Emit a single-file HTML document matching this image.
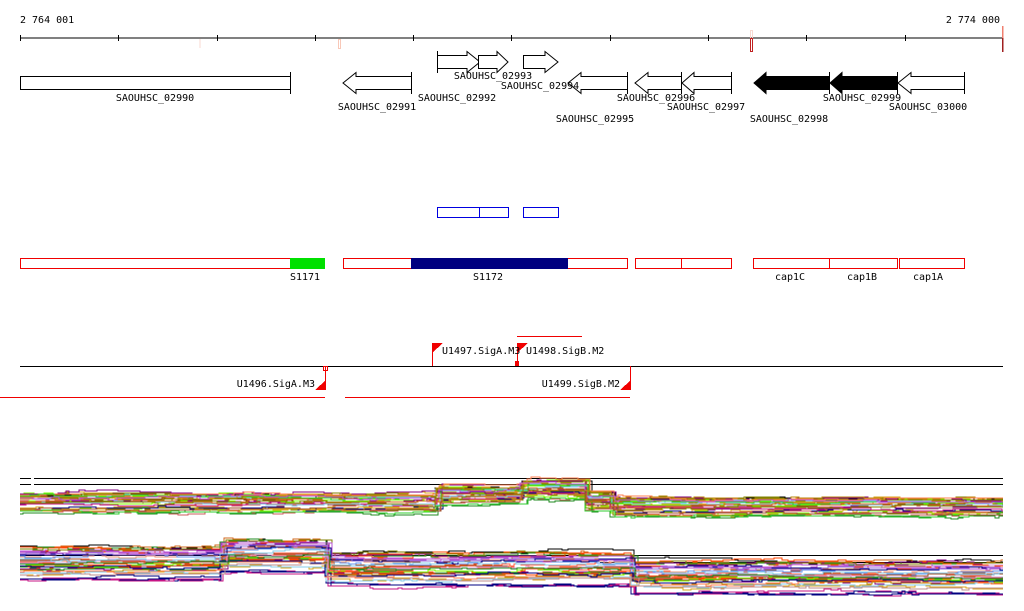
<!DOCTYPE html>
<html><head><meta charset="utf-8"><style>
html,body{margin:0;padding:0;background:#fff;width:1024px;height:611px;overflow:hidden}
svg{display:block}
text{font-family:"DejaVu Sans Mono","Liberation Mono",monospace;font-size:10px;fill:#000}
</style></head><body>
<svg id="s" width="1024" height="611" viewBox="0 0 1024 611" xmlns="http://www.w3.org/2000/svg" shape-rendering="crispEdges">
<text x="20" y="23">2 764 001</text>
<text x="1000" y="23" text-anchor="end">2 774 000</text>
<line x1="20" y1="38" x2="1003" y2="38" stroke="#000"/>
<g stroke="#000">
<line x1="20.5" y1="35" x2="20.5" y2="41"/><line x1="118.5" y1="35" x2="118.5" y2="41"/><line x1="217.5" y1="35" x2="217.5" y2="41"/><line x1="315.5" y1="35" x2="315.5" y2="41"/><line x1="413.5" y1="35" x2="413.5" y2="41"/><line x1="511.5" y1="35" x2="511.5" y2="41"/><line x1="610.5" y1="35" x2="610.5" y2="41"/><line x1="708.5" y1="35" x2="708.5" y2="41"/><line x1="806.5" y1="35" x2="806.5" y2="41"/><line x1="905.5" y1="35" x2="905.5" y2="41"/>
</g>
<rect x="199.5" y="39" width="1" height="9" fill="#f8d8d0"/>
<rect x="338.5" y="39.5" width="2" height="9" fill="none" stroke="#f8c8b8"/>
<rect x="750.5" y="30.5" width="2" height="8" fill="none" stroke="#f8d8d0"/>
<rect x="750.5" y="38.5" width="2" height="13" fill="none" stroke="#c02020"/>
<rect x="1002" y="26" width="1.5" height="12" fill="#f08070"/>
<rect x="1002" y="38" width="1.5" height="14" fill="#a02020"/>
<g fill="#fff" stroke="#000" stroke-width="1" shape-rendering="auto">
<rect x="20.5" y="76.5" width="270" height="13"/>
<line x1="290.5" y1="72" x2="290.5" y2="94"/>
<polygon points="411.5,76.5 356,76.5 356,72.5 343,83 356,93.5 356,89.5 411.5,89.5"/><line x1="411.5" y1="72" x2="411.5" y2="94"/>
<polygon points="437.5,55.5 467,55.5 467,51.5 480,62 467,72.5 467,68.5 437.5,68.5"/><line x1="437.5" y1="51" x2="437.5" y2="73"/>
<polygon points="478.5,55.5 497,55.5 497,51.5 508,62 497,72.5 497,68.5 478.5,68.5"/>
<polygon points="523.5,55.5 545,55.5 545,51.5 558,62 545,72.5 545,68.5 523.5,68.5"/>
<polygon points="627.5,76.5 581,76.5 581,72.5 568,83 581,93.5 581,89.5 627.5,89.5"/><line x1="627.5" y1="72" x2="627.5" y2="94"/>
<polygon points="681.5,76.5 648,76.5 648,72.5 635,83 648,93.5 648,89.5 681.5,89.5"/><line x1="681.5" y1="72" x2="681.5" y2="94"/>
<polygon points="731.5,76.5 694,76.5 694,72.5 682,83 694,93.5 694,89.5 731.5,89.5"/><line x1="731.5" y1="72" x2="731.5" y2="94"/>
<polygon points="829.5,76.5 766,76.5 766,72.5 754,83 766,93.5 766,89.5 829.5,89.5" fill="#000"/><line x1="829.5" y1="72" x2="829.5" y2="94"/>
<polygon points="897.5,76.5 842,76.5 842,72.5 830,83 842,93.5 842,89.5 897.5,89.5" fill="#000"/><line x1="897.5" y1="72" x2="897.5" y2="94"/>
<polygon points="964.5,76.5 911,76.5 911,72.5 898,83 911,93.5 911,89.5 964.5,89.5"/><line x1="964.5" y1="72" x2="964.5" y2="94"/>
</g>
<g text-anchor="middle">
<text x="155" y="101">SAOUHSC_02990</text>
<text x="377" y="110">SAOUHSC_02991</text>
<text x="457" y="101">SAOUHSC_02992</text>
<text x="493" y="79">SAOUHSC_02993</text>
<text x="540" y="89">SAOUHSC_02994</text>
<text x="595" y="122">SAOUHSC_02995</text>
<text x="656" y="101">SAOUHSC_02996</text>
<text x="706" y="110">SAOUHSC_02997</text>
<text x="789" y="122">SAOUHSC_02998</text>
<text x="862" y="101">SAOUHSC_02999</text>
<text x="928" y="110">SAOUHSC_03000</text>
</g>
<g fill="none" stroke="#0000e0">
<rect x="437.5" y="207.5" width="42" height="10"/><rect x="479.5" y="207.5" width="29" height="10"/><rect x="523.5" y="207.5" width="35" height="10"/>
</g>
<g fill="none" stroke="#f00000">
<rect x="20.5" y="258.5" width="270" height="10"/>
<rect x="343.5" y="258.5" width="284" height="10"/>
<rect x="635.5" y="258.5" width="46" height="10"/><rect x="681.5" y="258.5" width="50" height="10"/>
<rect x="753.5" y="258.5" width="76" height="10"/><rect x="829.5" y="258.5" width="68" height="10"/><rect x="899.5" y="258.5" width="65" height="10"/>
</g>
<rect x="290" y="258" width="35" height="11" fill="#00e000"/>
<rect x="411" y="258" width="157" height="11" fill="#000080"/>
<g text-anchor="middle">
<text x="305" y="280">S1171</text><text x="488" y="280">S1172</text>
<text x="790" y="280">cap1C</text><text x="862" y="280">cap1B</text><text x="928" y="280">cap1A</text>
</g>
<line x1="20" y1="366.5" x2="1003" y2="366.5" stroke="#000"/>
<g stroke="#f00000">
<line x1="517" y1="336.5" x2="582" y2="336.5"/>
<line x1="0" y1="397.5" x2="325" y2="397.5"/>
<line x1="345" y1="397.5" x2="630" y2="397.5"/>
<line x1="432.5" y1="343" x2="432.5" y2="366"/>
<line x1="517.5" y1="343" x2="517.5" y2="366"/>
<line x1="325.5" y1="366" x2="325.5" y2="390"/>
<line x1="630.5" y1="366" x2="630.5" y2="390"/>
<rect x="323.5" y="366.5" width="4" height="4" fill="none"/>
</g>
<g fill="#f00000">
<polygon points="432,343 443,343 432,353"/>
<polygon points="517,343 528,343 517,353"/>
<rect x="515" y="361" width="4" height="5"/>
<polygon points="326,380 326,390 315,390"/>
<polygon points="631,380 631,390 620,390"/>
</g>
<text x="442" y="354">U1497.SigA.M3</text>
<text x="526" y="354">U1498.SigB.M2</text>
<text x="315" y="387" text-anchor="end">U1496.SigA.M3</text>
<text x="620" y="387" text-anchor="end">U1499.SigB.M2</text>
<g stroke="#000">
<line x1="20" y1="478.5" x2="31" y2="478.5"/><line x1="34" y1="478.5" x2="1003" y2="478.5"/>
<line x1="20" y1="484.5" x2="31" y2="484.5"/><line x1="34" y1="484.5" x2="1003" y2="484.5"/>
<line x1="20" y1="555.5" x2="1003" y2="555.5"/>
<line x1="600" y1="562.5" x2="1003" y2="562.5"/>
</g>
<g id="tr" fill="none" stroke-width="1" shape-rendering="crispEdges"></g>
</svg>
<script>
(function(){
var seed=11;function r(){seed=(seed*16807)%2147483647;return (seed-1)/2147483646;}
var cols=["#d2691e","#ff6347","#808000","#c71585","#7cfc00","#6495ed","#87ceeb","#b8860b","#8b4513","#9370db","#ff7f50","#a0522d","#dda0dd","#228b22","#800080","#000080","#cd5c5c","#daa520","#32cd32","#e9967a","#bc8f8f","#ba55d3","#ff4500","#9acd32"];
function b1(x){if(x<435)return 502;if(x<520)return 494;if(x<585)return 488;if(x<610)return 500;return 506;}
function b2(x){if(x<220)return 562;if(x<325)return 555;if(x<630)return 568;return 576;}
var g=document.getElementById("tr"),ns="http://www.w3.org/2000/svg";
function track(b,n,spread,top){
 for(var i=0;i<n;i++){
  var off=i==0?-top:(r()-0.45)*spread, pts=[], w=0, x=20;
  while(x<=1003){ if(r()<0.35) w+=(r()-0.5)*4; w*=0.9; var y=(b(x)+off+w).toFixed(0);
    pts.push(x+","+y); var nx=Math.min(1003,x+3+Math.floor(r()*8)); pts.push(nx+","+y); if(x>=1003)break; x=nx; if(x>=1003){break;} }
  var p=document.createElementNS(ns,"polyline");p.setAttribute("points",pts.join(" "));
  p.setAttribute("stroke",i==0?"#000":cols[Math.floor(r()*cols.length)]);g.appendChild(p);
 }
}
track(b1,34,20,7);
track(b2,40,34,17);
})();
</script>
</body></html>
